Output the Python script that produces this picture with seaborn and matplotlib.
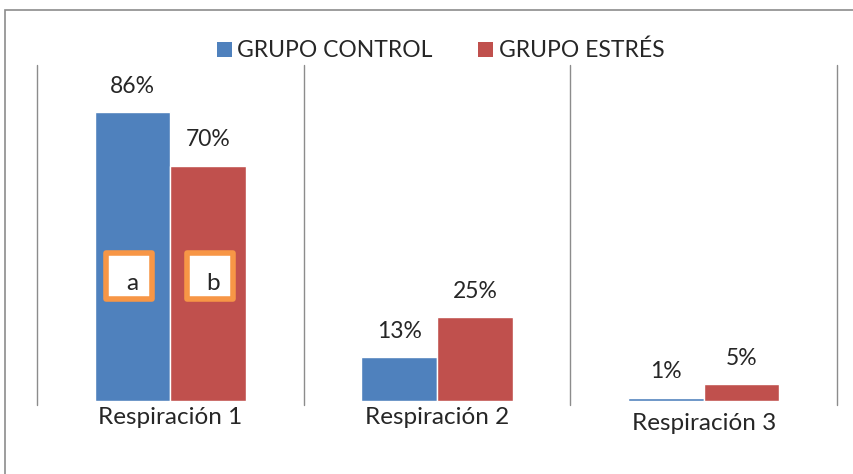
import matplotlib
matplotlib.use("Agg")
import matplotlib.pyplot as plt
import seaborn as sns
import pandas as pd
from matplotlib.patches import Rectangle, Patch

# chart data
categories = ["Respiración 1", "Respiración 2", "Respiración 3"]
groups = ["GRUPO CONTROL", "GRUPO ESTRÉS"]
control = [86, 13, 1]
estres = [70, 25, 5]
box_letters = ["a", "b"]

BLUE = "#4F81BD"
RED = "#C0504D"
ORANGE = "#F79646"
FS = 16.5

sns.set_theme(style="white")
plt.rcParams["font.family"] = ["Lato", "DejaVu Sans"]

df = pd.DataFrame({
    "cat": categories * 2,
    "grupo": [groups[0]] * 3 + [groups[1]] * 3,
    "valor": control + estres,
})

fig = plt.figure(figsize=(8.54, 4.74), dpi=100)
ax = fig.add_axes([0.0433, 0.154, 0.937, 0.709])

sns.barplot(data=df, x="cat", y="valor", hue="grupo", palette=[BLUE, RED],
            width=0.567, gap=0, saturation=1, ax=ax, legend=False)
ax.set_ylim(0, 100)
ax.set_xlim(-0.5, 2.5)

# value labels above each bar
for cont, vals in zip(ax.containers, [control, estres]):
    ax.bar_label(cont, labels=[f"{v}%" for v in vals], padding=11, fontsize=FS)

# category separators (Excel style)
for xv in [-0.5, 0.5, 1.5, 2.5]:
    ax.axvline(xv, ymin=-0.012, ymax=1, color="#8c8c8c", lw=1.0, clip_on=False)

for s in ax.spines.values():
    s.set_visible(False)
ax.set_yticks([])
ax.set_xlabel("")
ax.set_ylabel("")
ax.tick_params(axis="x", length=0, pad=4, labelsize=17.5)
labs = ax.get_xticklabels()
labs[2].set_y(-0.02)

# letter boxes on first group bars (fixed size, ~48 px square)
bw, bh = 0.17, 13.5
for cont, letter, dx in zip(ax.containers, box_letters, [-0.013, 0.007]):
    bar = cont[0]
    cx = bar.get_x() + bar.get_width() / 2 + dx
    cy = 37.2
    ax.add_patch(Rectangle((cx - bw / 2, cy - bh / 2), bw, bh, fc="white",
                           ec=ORANGE, lw=4, joinstyle="round", zorder=5))
    ax.text(cx + 0.012, cy - 2.3, letter, ha="center", va="center",
            fontsize=17.5, zorder=6)

# legend
handles = [Patch(facecolor=BLUE, edgecolor="none"), Patch(facecolor=RED, edgecolor="none")]
fig.legend(handles, groups, loc="center", bbox_to_anchor=(0.516, 0.893), ncol=2,
           frameon=False, fontsize=FS, handlelength=0.65, handleheight=0.65,
           handletextpad=0.25, columnspacing=2.0)

# outer chart border
fig.patches.append(Rectangle((5 / 854, -0.1), 1.2, 1.1 - 10 / 474,
                             transform=fig.transFigure, fill=False,
                             ec="#8c8c8c", lw=1.2))

fig.savefig("out.png", dpi=100)
